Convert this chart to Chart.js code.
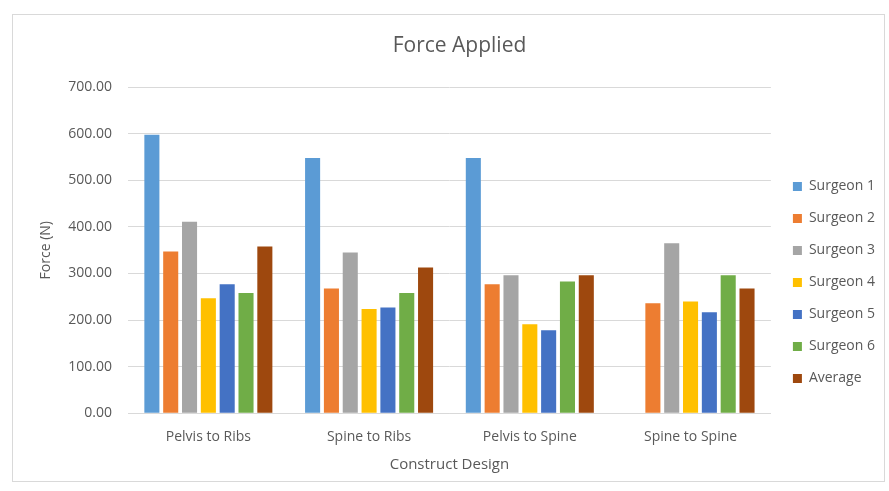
<!DOCTYPE html>
<html>
<head>
<meta charset="utf-8">
<script src="https://cdn.jsdelivr.net/npm/chart.js@4"></script>
<style>
html,body{margin:0;padding:0;background:#fff;}
#wrap{position:absolute;left:0;top:0;width:889px;height:491px;}
</style>
</head>
<body>
<div id="wrap"><canvas id="c" width="889" height="491"></canvas></div>
<script>
const categories = ["Pelvis to Ribs", "Spine to Ribs", "Pelvis to Spine", "Spine to Spine"];
const seriesNames = ["Surgeon 1", "Surgeon 2", "Surgeon 3", "Surgeon 4", "Surgeon 5", "Surgeon 6", "Average"];
const surgeon1 = [598, 548, 548, null];
const surgeon2 = [347, 268, 277, 236];
const surgeon3 = [411, 345, 296, 365];
const surgeon4 = [247, 224, 191, 240];
const surgeon5 = [277, 227, 178, 217];
const surgeon6 = [258, 258, 283, 296];
const average  = [358, 313, 296, 268];
const yTicks = [0, 100, 200, 300, 400, 500, 600, 700];
const colors = ["#5B9BD5", "#ED7D31", "#A5A5A5", "#FFC000", "#4472C4", "#70AD47", "#9E480E"];

const seriesValues = [surgeon1, surgeon2, surgeon3, surgeon4, surgeon5, surgeon6, average];
const FONT = "'Open Sans', sans-serif";
const TXT = "#595959";

const borderPlugin = {
  id: 'outerBorder',
  beforeDraw(chart) {
    const ctx = chart.ctx;
    ctx.save();
    ctx.fillStyle = '#fff';
    ctx.fillRect(0, 0, chart.width, chart.height);
    ctx.strokeStyle = '#d9d9d9';
    ctx.lineWidth = 1;
    ctx.strokeRect(12.5, 14.5, 872, 467);
    ctx.restore();
  }
};

const legendShift = {
  id: 'legendShift',
  afterLayout(chart) {
    const lg = chart.legend;
    if (!lg) return;
    const dx = 4, dy = 29;
    lg.left += dx; lg.right += dx;
    lg.top += dy; lg.bottom += dy;
  }
};

new Chart(document.getElementById('c'), {
  type: 'bar',
  data: {
    labels: categories,
    datasets: seriesNames.map((n, i) => ({
      label: n,
      data: seriesValues[i],
      backgroundColor: colors[i],
      borderWidth: 0,
      categoryPercentage: 0.82,
      barPercentage: 0.8
    }))
  },
  options: {
    responsive: false,
    animation: false,
    layout: { padding: { left: 38, right: 8, top: 33, bottom: 17 } },
    plugins: {
      title: {
        display: true,
        text: 'Force Applied',
        color: TXT,
        font: { family: FONT, size: 21, weight: 'normal' },
        padding: { top: 0, bottom: 29 }
      },
      legend: {
        position: 'right',
        align: 'center',
        labels: {
          boxWidth: 9,
          boxHeight: 9,
          padding: 18,
          color: TXT,
          font: { family: FONT, size: 14 }
        }
      },
      tooltip: { enabled: false }
    },
    scales: {
      x: {
        grid: { display: false },
        border: { display: true, color: '#d9d9d9' },
        ticks: { color: TXT, font: { family: FONT, size: 14 }, padding: 7 },
        title: { display: true, text: 'Construct Design', color: TXT, font: { family: FONT, size: 15 }, padding: { top: 4, bottom: 0 } }
      },
      y: {
        min: 0,
        max: 700,
        afterBuildTicks(scale) { scale.ticks = yTicks.map(v => ({ value: v })); },
        afterFit(scale) { scale.width = 128 - 38; },
        grid: { color: '#d9d9d9', drawTicks: false },
        border: { display: false },
        ticks: {
          color: TXT,
          font: { family: FONT, size: 14 },
          padding: 16,
          callback: v => Number(v).toFixed(2)
        },
        title: { display: true, text: 'Force (N)', color: TXT, font: { family: FONT, size: 14 }, padding: { top: 0, bottom: 10 } }
      }
    }
  },
  plugins: [borderPlugin, legendShift]
});
</script>
</body>
</html>
